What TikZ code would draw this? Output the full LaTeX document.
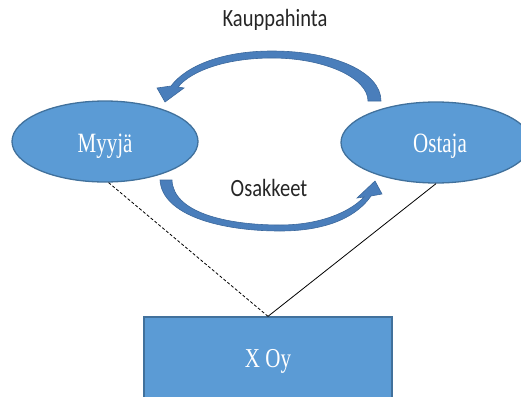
\documentclass[tikz,border=0pt]{standalone}
\usepackage{fontspec}
\setmainfont{Liberation Serif}
\newfontfamily\calib{Carlito}
\usetikzlibrary{shapes.geometric}
\definecolor{boxfill}{RGB}{91,155,213}
\definecolor{boxline}{RGB}{65,113,156}
\definecolor{arrfill}{RGB}{74,126,187}
\definecolor{arrline}{RGB}{60,104,156}
\tikzset{
  ell/.style={ellipse, fill=boxfill, draw=boxline, line width=1.3pt, inner sep=0pt, text=white, text depth=0pt,
    font=\fontsize{21}{21}\selectfont},
  boxnode/.style={rectangle, fill=boxfill, draw=boxline, line width=1.3pt, inner sep=0pt, text=white, text depth=0pt,
    font=\fontsize{21}{21}\selectfont},
  curvarrow/.style={fill=arrfill, draw=arrline, line width=0.6pt, line join=miter},
  lbl/.style={inner sep=0pt, anchor=base, font=\calib\fontsize{20.5}{20.5}\selectfont, text=black!85},
}
\newcommand{\vs}[2]{\scalebox{1}[#1]{#2}}
\begin{document}
\begin{tikzpicture}[x=1pt,y=-1pt]
\useasboundingbox (0,0) rectangle (521,396);
\clip (0,0) rectangle (521,396);
% nodes
\node[ell, minimum width=186pt, minimum height=81pt, text height=21pt] (myyja) at (105,141.5) {\vs{1.33}{Myyjä}};
\node[ell, minimum width=190pt, minimum height=81pt, text height=19pt] (ostaja) at (436,142.5) {\hspace*{8pt}\vs{1.33}{Ostaja}};
\node[boxnode, minimum width=248pt, minimum height=83pt, text height=17pt] (xoy) at (268,358.5) {\vs{1.3}{X Oy}};
% labels
\node[lbl] (kauppa) at (275,27) {\vs{1.21}{Kauppahinta}};
\node[lbl] (osak) at (269,196) {\vs{1.21}{Osakkeet}};
% connectors
\draw[line width=0.8pt, dash pattern=on 3pt off 2pt] (myyja.-85) -- (xoy.north);
\draw[line width=0.8pt] (ostaja.south) -- (xoy.north);
% top curved arrow (Ostaja -> Myyja)
\path[curvarrow] (381,101) .. controls (381,72) and (334,51) .. (272,51)
  .. controls (222,51) and (186,66) .. (171,86)
  -- (157,88) -- (165,102) -- (184,88) -- (178,87)
  .. controls (192,70) and (228,58) .. (272,58)
  .. controls (325,58) and (368,78) .. (368,101) -- cycle;
% bottom curved arrow (Myyja -> Ostaja)
\path[curvarrow] (160,180) .. controls (162,215) and (220,231) .. (280,231)
  .. controls (330,231) and (358,215) .. (371,196)
  -- (382,194) -- (375,181) -- (357,198) -- (364,197)
  .. controls (350,212) and (320,225) .. (280,225)
  .. controls (225,225) and (173,212) .. (172,180) -- cycle;
\end{tikzpicture}
\end{document}
